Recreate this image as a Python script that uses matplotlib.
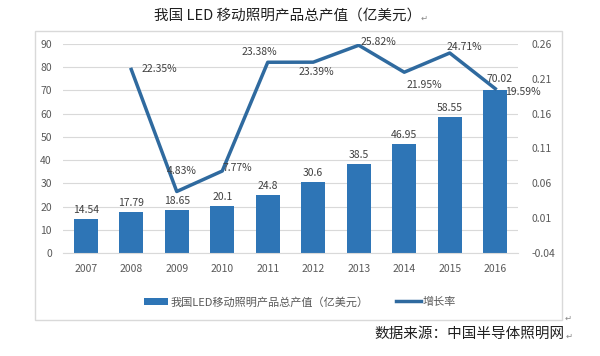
import matplotlib.pyplot as plt
from matplotlib.patches import Rectangle

plt.rcParams['font.family'] = ['Noto Sans CJK SC', 'DejaVu Sans']

years = ['2007', '2008', '2009', '2010', '2011', '2012', '2013', '2014', '2015', '2016']
output = [14.54, 17.79, 18.65, 20.1, 24.8, 30.6, 38.5, 46.95, 58.55, 70.02]
growth_years = years[1:]
growth = [0.2235, 0.0483, 0.0777, 0.2338, 0.2339, 0.2582, 0.2195, 0.2471, 0.1959]
# label offsets in pixels for the growth labels
growth_offsets = [(28, 0), (5, 20), (15, 3), (-8, 10), (3, -10), (20, 3), (20, -13), (15, 6), (28, -3)]

bar_color = '#2E75B6'
line_color = '#2F6A9F'
gray = '#595959'

fig = plt.figure(figsize=(6, 3.56), dpi=100)
fig.patches.append(Rectangle((35 / 600, 1 - 320 / 356), 527 / 600, 289 / 356,
                             transform=fig.transFigure, fill=False, edgecolor='#D9D9D9', lw=1))

ax = fig.add_axes([63 / 600, 1 - 253 / 356, 455 / 600, 209 / 356])
x = range(len(years))
bars = ax.bar(x, output, width=0.52, color=bar_color, label='我国LED移动照明产品总产值（亿美元）', zorder=2)
ax.set_ylim(0, 90)
ax.set_xlim(-0.5, len(years) - 0.5)
ax.set_yticks(range(0, 91, 10))
ax.set_xticks(list(x))
ax.set_xticklabels(years)
ax.grid(axis='y', color='#D9D9D9', lw=0.8, zorder=0)
for s in ax.spines.values():
    s.set_visible(False)
ax.spines['bottom'].set_visible(True)
ax.spines['bottom'].set_color('#D9D9D9')
ax.tick_params(length=0, labelsize=7.5, colors=gray, pad=8)
for i, v in enumerate(output):
    off = (4, 6) if i == len(output) - 1 else (0, 4)
    ax.annotate(f'{v:g}', (i, v), xytext=off, textcoords='offset pixels',
                ha='center', va='bottom', fontsize=7.5, color='#404040')

ax2 = ax.twinx()
gx = [years.index(y) for y in growth_years]
ax2.plot(gx, growth, color=line_color, lw=2.5, label='增长率', zorder=3)
ax2.set_ylim(-0.04, 0.26)
ax2.set_yticks([-0.04, 0.01, 0.06, 0.11, 0.16, 0.21, 0.26])
ax2.set_yticklabels(['-0.04', '0.01', '0.06', '0.11', '0.16', '0.21', '0.26'])
for s in ax2.spines.values():
    s.set_visible(False)
ax2.tick_params(length=0, labelsize=7.5, colors=gray, pad=10)
for xi, g, (dx, dy) in zip(gx, growth, growth_offsets):
    ax2.annotate(f'{g * 100:.2f}%', (xi, g), xytext=(dx, dy), textcoords='offset pixels',
                 ha='center', va='center', fontsize=7.5, color='#404040')

fig.legend(handles=[bars, ax2.lines[0]], loc='center', bbox_to_anchor=(0.5, 1 - 302 / 356),
           ncol=2, frameon=False, fontsize=8, handlelength=2.2, columnspacing=2.5,
           handletextpad=0.2, labelcolor=gray)

fig.text(288 / 600, 1 - 16 / 356, '我国 LED 移动照明产品总产值（亿美元）', ha='center', va='center',
         fontsize=10.5, color='#202020')
fig.text(421 / 600, 1 - 18 / 356, '↵', ha='left', va='center', fontsize=6, color='#888888')
fig.text(565 / 600, 1 - 334 / 356, '数据来源：中国半导体照明网', ha='right', va='center',
         fontsize=10.5, color='#202020')
fig.text(566 / 600, 1 - 336 / 356, '↵', ha='left', va='center', fontsize=6, color='#888888')
fig.text(565 / 600, 1 - 318 / 356, '↵', ha='left', va='center', fontsize=6, color='#888888')

fig.savefig('out.png', dpi=100)
